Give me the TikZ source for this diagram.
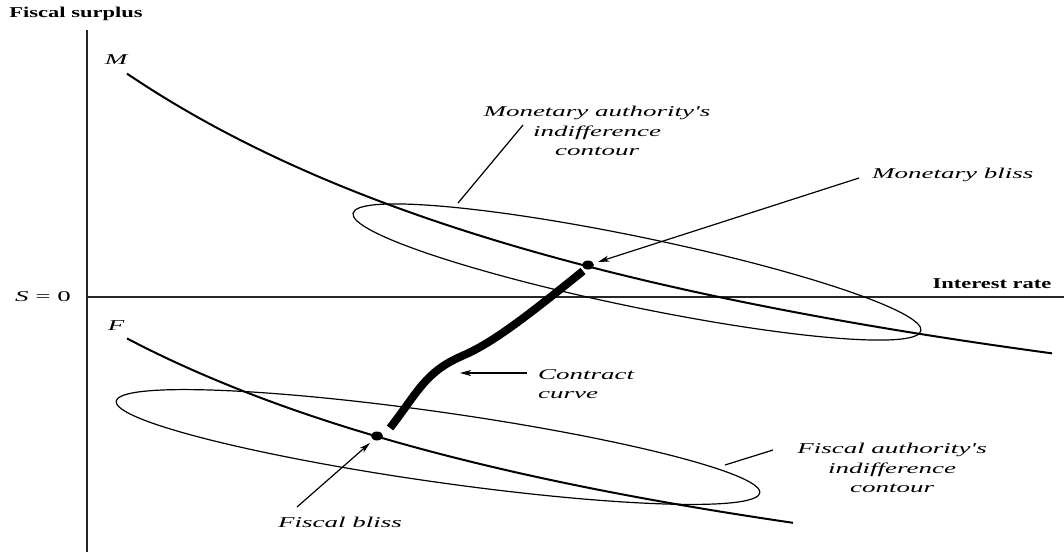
\documentclass[tikz,border=0pt]{standalone}
\usepackage{fontspec}
\usetikzlibrary{arrows.meta,shapes.geometric}
\newfontfamily\labfont[FakeStretch=1.8]{Liberation Serif}
\newfontfamily\axfont[FakeStretch=1.5]{Liberation Serif}
\tikzset{
  lab/.style={font=\labfont\itshape\fontsize{15}{19.5}\selectfont, inner sep=0pt, align=center},
  axlab/.style={font=\axfont\bfseries\fontsize{15}{18}\selectfont, inner sep=0pt},
  axis/.style={line width=1.2pt, draw=black!85},
  curve/.style={line width=2pt},
  contour/.style={line width=1.2pt},
  leader/.style={line width=1.2pt},
  arr/.style={line width=1.2pt, -{Stealth[length=11pt,width=6pt,inset=3pt]}},
  blissdot/.style={ellipse, fill=black, minimum width=12pt, minimum height=9pt, inner sep=0pt},
}
\begin{document}
\begin{tikzpicture}[x=1pt,y=-1pt]
\useasboundingbox (0,0) rectangle (1064,552);
% axes
\coordinate (ytop) at (87,30);
\coordinate (ybot) at (87,552);
\coordinate (xl) at (87,297);
\coordinate (xr) at (1064,297);
\draw[axis] (ytop) -- (ybot);
\draw[axis] (xl) -- (xr);
\node[axlab] (ylab) at (76,14) {Fiscal surplus};
\node[axlab] (xlab) at (992,284) {Interest rate};
\node[lab] (s0) at (43,297) {S\textup{ = 0}};
% curves
\draw[curve] plot[domain=127:1052, samples=80, smooth] ({\x},{580.6-383.712/(0.001*\x+0.629)});
\draw[curve] plot[domain=127:793, samples=60, smooth] ({\x},{730-295.176/(0.001*\x+0.626)});
\node[lab] (Mlab) at (116,60) {M};
\node[lab] (Flab) at (116,326) {F};
% ellipses
\draw[contour, rotate around={-11.7:(637,272)}] (637,272) ellipse [x radius=290pt, y radius=35pt];
\draw[contour, rotate around={-8.1:(438,447)}] (438,447) ellipse [x radius=325pt, y radius=35pt];
% contract curve
\draw[line width=8pt] (390,428) .. controls (418,392) and (425,372) .. (462,356)
   .. controls (490,344) and (520,322) .. (583,271);
% bliss points
\node[blissdot] (mb) at (588,265) {};
\node[blissdot] (fb) at (377,436) {};
% labels
\node[lab] (mclab) at (597,131) {Monetary authority's\\indifference\\contour};
\node[lab] (fclab) at (892,468) {Fiscal authority's\\indifference\\contour};
\node[lab, anchor=west] (mblab) at (872,175) {Monetary bliss};
\node[lab] (fblab) at (340,522) {Fiscal bliss};
\node[lab, anchor=west, align=left] (cclab) at (538,384) {Contract\\curve};
% leaders
\coordinate (mcA) at (523,125);
\coordinate (mcB) at (458,203);
\draw[leader] (mcA) -- (mcB);
\coordinate (fcA) at (773,450);
\coordinate (fcB) at (725,465);
\draw[leader] (fcA) -- (fcB);
% arrows
\coordinate (mbS) at (859,178);
\coordinate (mbE) at (598,262);
\draw[arr] (mbS) -- (mbE);
\coordinate (fbS) at (297,507);
\coordinate (fbE) at (370,443);
\draw[arr] (fbS) -- (fbE);
\coordinate (ccS) at (527,373);
\coordinate (ccE) at (460,373);
\draw[arr] (ccS) -- (ccE);
\end{tikzpicture}
\end{document}
